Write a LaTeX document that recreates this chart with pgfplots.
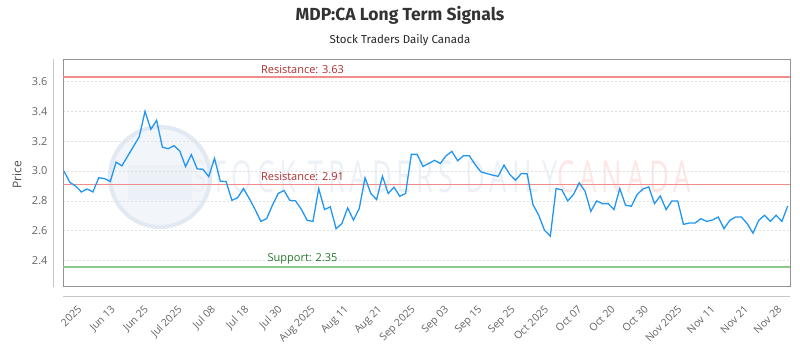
\documentclass[border=0pt]{standalone}
\usepackage{pgfplots}
\pgfplotsset{compat=1.18}
\usepackage{fontspec}
\usepackage{graphicx}
\setmainfont{Open Sans}
\newfontfamily\titlefont{Fira Sans}
\newfontfamily\wmfont[LetterSpace=18]{Open Sans}
\definecolor{linecol}{RGB}{33,150,243}
\definecolor{resline}{RGB}{240,140,140}
\definecolor{restext}{RGB}{175,45,45}
\definecolor{supline}{RGB}{140,200,140}
\definecolor{suptext}{RGB}{40,120,45}
\definecolor{ticktext}{RGB}{100,100,100}
\definecolor{wmblue}{RGB}{236,240,247}
\definecolor{wmfill}{RGB}{242,245,250}
\definecolor{wmring}{RGB}{226,233,243}
\definecolor{wmred}{RGB}{252,230,230}

\pgfplotstableread{
x y
0 3.00
1 2.925
2 2.90
3 2.86
4 2.88
5 2.86
6 2.955
7 2.95
8 2.93
9 3.06
10 3.035
11 3.10
12 3.165
13 3.23
14 3.40
15 3.28
16 3.34
17 3.16
18 3.15
19 3.17
20 3.135
21 3.03
22 3.11
23 3.015
24 3.012
25 2.963
26 3.085
27 2.932
28 2.93
29 2.804
30 2.822
31 2.883
32 2.816
33 2.744
34 2.663
35 2.681
36 2.771
37 2.85
38 2.87
39 2.804
40 2.80
41 2.744
42 2.67
43 2.663
44 2.883
45 2.742
46 2.76
47 2.614
48 2.648
49 2.753
50 2.672
51 2.749
52 2.955
53 2.85
54 2.809
55 2.966
56 2.85
57 2.892
58 2.831
59 2.85
60 3.112
61 3.112
62 3.031
63 3.051
64 3.072
65 3.051
66 3.103
67 3.132
68 3.069
69 3.103
70 3.103
71 3.045
72 2.995
73 2.984
74 2.973
75 2.965
76 3.04
77 2.977
78 2.939
79 2.984
80 2.981
81 2.776
82 2.704
83 2.603
84 2.564
85 2.883
86 2.874
87 2.80
88 2.843
89 2.921
90 2.865
91 2.73
92 2.80
93 2.782
94 2.782
95 2.742
96 2.883
97 2.771
98 2.764
99 2.843
100 2.88
101 2.894
102 2.782
103 2.833
104 2.742
105 2.80
106 2.80
107 2.643
108 2.652
109 2.652
110 2.681
111 2.663
112 2.672
113 2.692
114 2.614
115 2.67
116 2.692
117 2.692
118 2.648
119 2.584
120 2.67
121 2.704
122 2.663
123 2.704
124 2.663
125 2.766
}\pricedata

\begin{document}
\begin{tikzpicture}[x=1pt,y=1pt]
\useasboundingbox (0,0) rectangle (800,350);
% faint watermark
\fill[wmfill] (160,173) circle (52);
\draw[wmring, line width=4pt] (160,173) circle (50);
\fill[wmblue] (128,150) rectangle (192,185);
\node[text=wmblue, font=\wmfont\fontsize{44}{44}\selectfont] at (375,173) {\scalebox{0.62}[1]{STOCK TRADERS DAILY}};
\node[text=wmred, font=\wmfont\fontsize{44}{44}\selectfont] at (624,173) {\scalebox{0.62}[1]{CANADA}};
% offset axis lines
\draw[gray!45, line width=0.8pt] (53,291) -- (53,63);
\draw[gray!45, line width=0.8pt] (63,54) -- (790,54);
% titles
\node[font=\titlefont\bfseries\fontsize{17.5}{20}\selectfont, text=black!80] at (400,335) {MDP:CA Long Term Signals};
\node[font=\titlefont\fontsize{11.5}{13}\selectfont, text=black!85] at (400,310) {Stock Traders Daily Canada};
\node[rotate=90, font=\fontsize{12}{14}\selectfont, text=black!70] at (17,175) {Price};
\begin{axis}[
  at={(63pt,64pt)}, anchor=south west,
  width=727pt, height=227pt, scale only axis,
  xmin=-0.17, xmax=125.4,
  ymin=2.23, ymax=3.751,
  axis line style={draw=gray!85, line width=0.9pt},
  ytick={2.4,2.6,2.8,3.0,3.2,3.4,3.6},
  yticklabel style={/pgf/number format/.cd, fixed, fixed zerofill, precision=1, /tikz/.cd, font=\fontsize{11}{13}\selectfont, text=ticktext, xshift=-12pt},
  /pgf/number format/assume math mode=true,
  xtick={3.97,9.73,15.48,21.24,27.00,32.76,38.51,44.27,50.03,55.78,61.54,67.30,73.06,78.81,84.57,90.33,96.08,101.84,107.60,113.35,119.11,124.87},
  xticklabels={2025,Jun 13,Jun 25,Jul 2025,Jul 08,Jul 18,Jul 30,Aug 2025,Aug 11,Aug 21,Sep 2025,Sep 03,Sep 15,Sep 25,Oct 2025,Oct 07,Oct 20,Oct 30,Nov 2025,Nov 11,Nov 21,Nov 28},
  xticklabel style={anchor=north east, xshift=-10pt, yshift=-17pt, rotate=45, font=\fontsize{10.5}{12}\selectfont, text=ticktext, inner sep=1pt},
  major tick length=0pt,
  ymajorgrids, xmajorgrids=false,
  major grid style={gray!25, dash pattern=on 2pt off 2pt, line width=0.6pt},
  clip=false,
]
\addplot[resline, line width=1.8pt, forget plot] coordinates {(-0.17,3.63) (125.4,3.63)};
\addplot[resline, line width=1.8pt, forget plot] coordinates {(-0.17,2.91) (125.4,2.91)};
\addplot[supline, line width=1.8pt, forget plot] coordinates {(-0.17,2.355) (125.4,2.355)};
\node[anchor=south, text=restext, font=\fontsize{11}{13}\selectfont] at (axis cs:41.2,3.63) {Resistance: 3.63};
\node[anchor=south, text=restext, font=\fontsize{11}{13}\selectfont] at (axis cs:41.2,2.91) {Resistance: 2.91};
\node[anchor=south, text=suptext, font=\fontsize{11}{13}\selectfont] at (axis cs:41.2,2.355) {Support: 2.35};
\addplot[linecol, line width=1.3pt] table[x=x,y=y] {\pricedata};
\end{axis}
\end{tikzpicture}
\end{document}
